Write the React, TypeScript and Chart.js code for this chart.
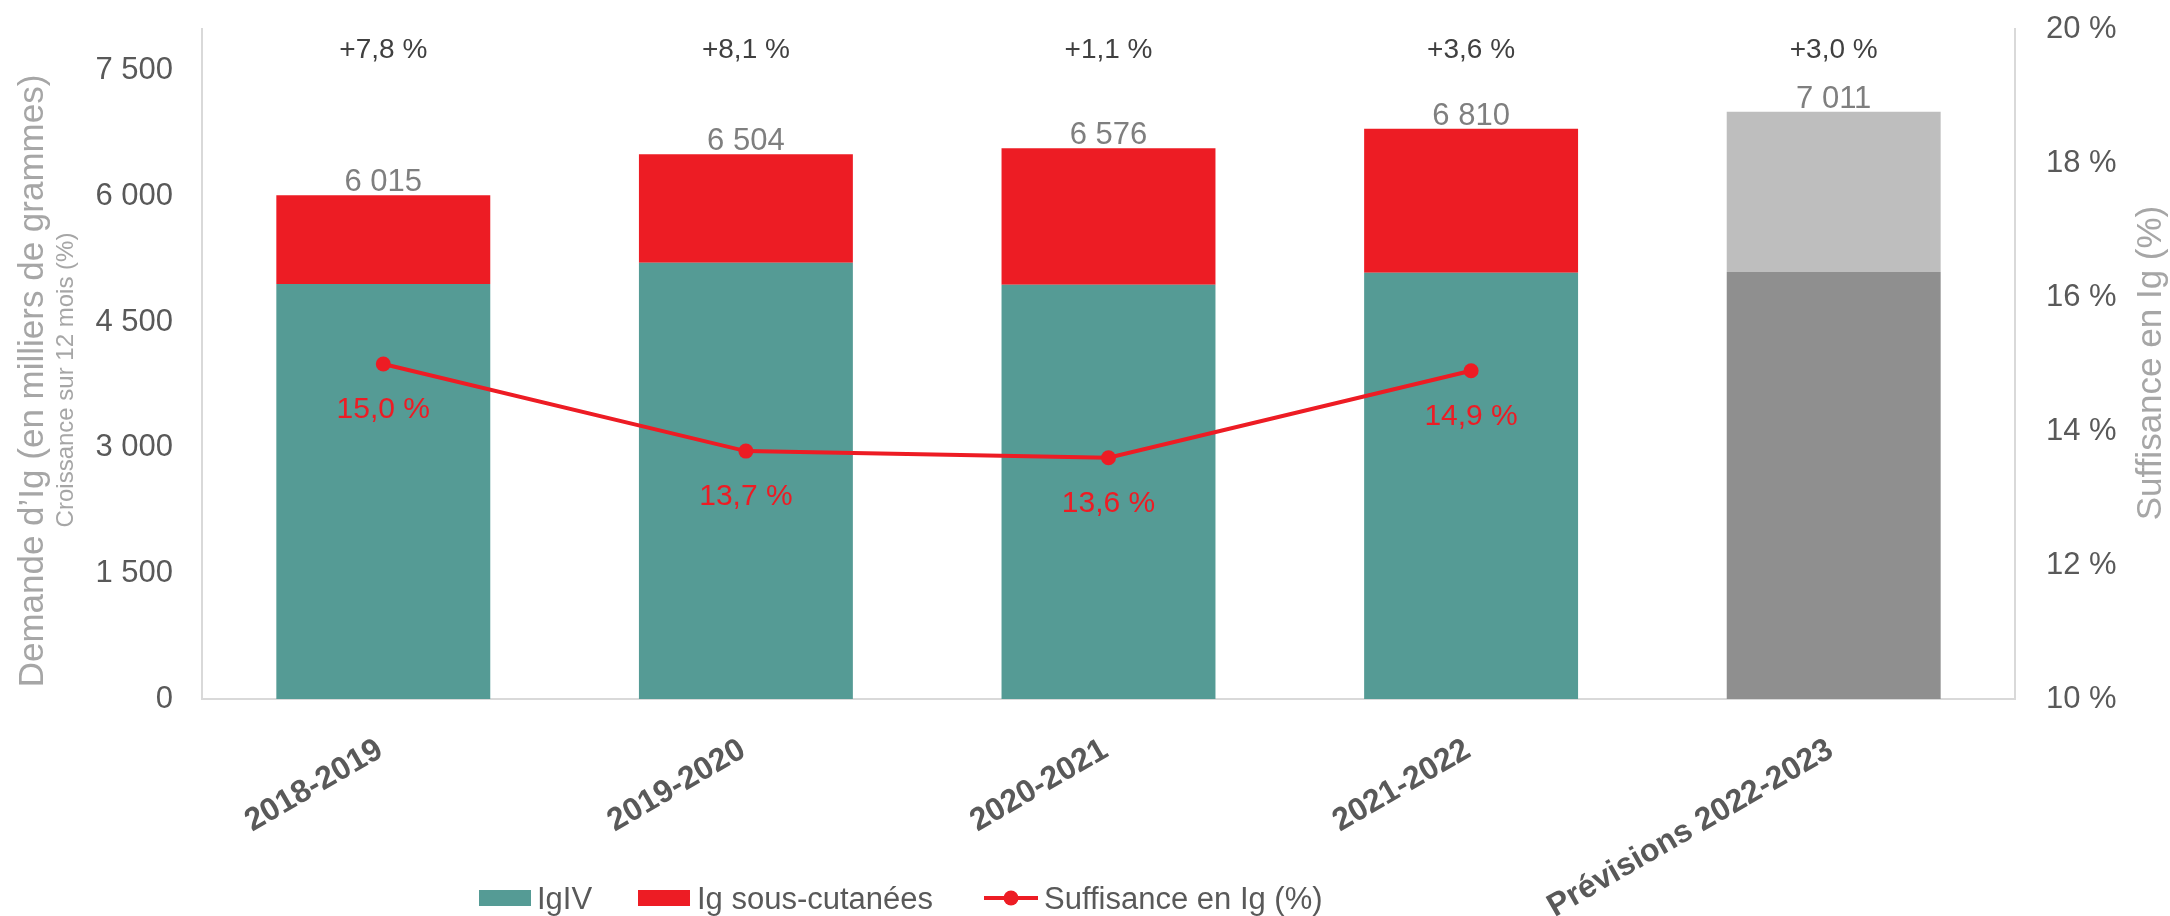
import React, { useEffect, useRef } from 'react';
import { Chart, registerables } from 'chart.js';

Chart.register(...registerables);

// ---------- DATA ----------
const categories = ['2018-2019', '2019-2020', '2020-2021', '2021-2022', 'Prévisions 2022-2023'];
const igIV = [4955, 5210, 4945, 5090, 5100];
const igSC = [1060, 1294, 1631, 1720, 1911];
const totals = [6015, 6504, 6576, 6810, 7011];
const growth = [7.8, 8.1, 1.1, 3.6, 3.0];
const suffisance: (number | null)[] = [15.0, 13.7, 13.6, 14.9, null];
const leftTicks = [0, 1500, 3000, 4500, 6000, 7500];
const rightTicks = [10, 12, 14, 16, 18, 20];
const seriesNames = ['IgIV', 'Ig sous-cutanées', 'Suffisance en Ig (%)'];
const leftTitle = 'Demande d’Ig (en milliers de grammes)';
const leftSubTitle = 'Croissance sur 12 mois (%)';
const rightTitle = 'Suffisance en Ig (%)';

// ---------- STYLE ----------
const FONT = '"Liberation Sans", Arial, Helvetica, sans-serif';
const TEAL = '#559B95';
const RED = '#ED1C24';
const DARK_GREY = '#8F8F8F';
const LIGHT_GREY = '#BEBEBE';
const TICK = '#595959';
const AXIS = '#D9D9D9';
const TITLE = '#A6A6A6';

const fmtInt = (v: number) => String(Math.round(v)).replace(/\B(?=(\d{3})+(?!\d))/g, ' ');
const fmtPct1 = (v: number) => v.toFixed(1).replace('.', ',') + ' %';
const fmtGrowth = (v: number) => '+' + v.toFixed(1).replace('.', ',') + ' %';

export default function App() {
  const ref = useRef<HTMLCanvasElement>(null);

  useEffect(() => {
    document.body.style.margin = '0';
    const canvas = ref.current;
    if (!canvas) return;

    const labelsPlugin = {
      id: 'labelsPlugin',
      afterDatasetsDraw(chart: any) {
        const c = chart.ctx;
        const area = chart.chartArea;
        const barMeta = chart.getDatasetMeta(1);
        const lineMeta = chart.getDatasetMeta(2);
        c.save();
        c.textAlign = 'center';
        c.textBaseline = 'alphabetic';
        barMeta.data.forEach((el: any, i: number) => {
          c.font = `31px ${FONT}`;
          c.fillStyle = '#7F7F7F';
          c.fillText(fmtInt(totals[i]), el.x, el.y - 4);
          c.font = `28px ${FONT}`;
          c.fillStyle = '#404040';
          c.fillText(fmtGrowth(growth[i]), el.x, area.top + 29);
        });
        lineMeta.data.forEach((el: any, i: number) => {
          const v = suffisance[i];
          if (v == null) return;
          c.font = `30px ${FONT}`;
          c.fillStyle = RED;
          c.fillText(fmtPct1(v), el.x, el.y + 54);
        });
        c.restore();
      },
      afterDraw(chart: any) {
        const c = chart.ctx;
        c.save();
        const drawRot = (text: string, x: number, y: number, size: number) => {
          c.save();
          c.translate(x, y);
          c.rotate(-Math.PI / 2);
          c.textAlign = 'center';
          c.textBaseline = 'alphabetic';
          c.font = `${size}px ${FONT}`;
          c.fillStyle = TITLE;
          c.fillText(text, 0, 0);
          c.restore();
        };
        drawRot(leftTitle, 43, 381, 35);
        drawRot(leftSubTitle, 73, 380, 24);
        drawRot(rightTitle, 2161, 363, 35);

        // legend
        const ly = 898;
        c.font = `31px ${FONT}`;
        c.textAlign = 'left';
        c.textBaseline = 'alphabetic';
        c.fillStyle = TEAL;
        c.fillRect(479, ly - 8, 52, 16);
        c.fillStyle = TICK;
        c.fillText(seriesNames[0], 537, ly + 11);
        c.fillStyle = RED;
        c.fillRect(638, ly - 8, 52, 16);
        c.fillStyle = TICK;
        c.fillText(seriesNames[1], 697, ly + 11);
        c.strokeStyle = RED;
        c.lineWidth = 4;
        c.beginPath();
        c.moveTo(984, ly);
        c.lineTo(1038, ly);
        c.stroke();
        c.fillStyle = RED;
        c.beginPath();
        c.arc(1011, ly, 7.5, 0, Math.PI * 2);
        c.fill();
        c.fillStyle = TICK;
        c.fillText(seriesNames[2], 1044, ly + 11);
        c.restore();
      },
    };

    const chart = new Chart(canvas, {
      type: 'bar',
      data: {
        labels: categories,
        datasets: [
          {
            type: 'bar',
            label: seriesNames[0],
            data: igIV,
            backgroundColor: [TEAL, TEAL, TEAL, TEAL, DARK_GREY],
            yAxisID: 'y',
            stack: 's',
            order: 1,
            categoryPercentage: 1,
            barPercentage: 0.59,
          },
          {
            type: 'bar',
            label: seriesNames[1],
            data: igSC,
            backgroundColor: [RED, RED, RED, RED, LIGHT_GREY],
            yAxisID: 'y',
            stack: 's',
            order: 1,
            categoryPercentage: 1,
            barPercentage: 0.59,
          },
          {
            type: 'line',
            label: seriesNames[2],
            data: suffisance,
            yAxisID: 'y1',
            borderColor: RED,
            backgroundColor: RED,
            borderWidth: 4,
            pointRadius: 7.5,
            pointBorderWidth: 0,
            pointBackgroundColor: RED,
            tension: 0,
            order: 0,
          } as any,
        ],
      },
      options: {
        animation: false,
        responsive: true,
        maintainAspectRatio: false,
        layout: { padding: { top: 29, left: 0, right: 0, bottom: 0 } },
        plugins: {
          legend: { display: false },
          tooltip: { enabled: false },
          title: { display: false },
        },
        scales: {
          x: {
            stacked: true,
            offset: true,
            grid: { display: false, drawTicks: false },
            border: { display: true, color: AXIS, width: 2 },
            ticks: {
              autoSkip: false,
              minRotation: 30,
              maxRotation: 30,
              padding: 32,
              labelOffset: -3,
              color: TICK,
              font: { family: FONT, size: 32, weight: 'bold' },
            },
            afterFit: (s: any) => {
              s.height = 217;
              s.paddingLeft = 0;
              s.paddingRight = 0;
            },
          },
          y: {
            position: 'left',
            stacked: true,
            min: 0,
            max: 8000,
            grid: { display: false, drawTicks: false },
            border: { display: true, color: AXIS, width: 2 },
            afterBuildTicks: (s: any) => {
              s.ticks = leftTicks.map((v) => ({ value: v }));
            },
            ticks: {
              padding: 29,
              color: TICK,
              font: { family: FONT, size: 31 },
              callback: (v: any) => fmtInt(Number(v)),
            },
            afterFit: (s: any) => {
              s.width = 202;
              s.paddingTop = 0;
              s.paddingBottom = 0;
            },
          },
          y1: {
            position: 'right',
            min: 10,
            max: 20,
            grid: { display: false, drawTicks: false },
            border: { display: true, color: AXIS, width: 2 },
            afterBuildTicks: (s: any) => {
              s.ticks = rightTicks.map((v) => ({ value: v }));
            },
            ticks: {
              padding: 31,
              color: TICK,
              font: { family: FONT, size: 31 },
              callback: (v: any) => `${v} %`,
            },
            afterFit: (s: any) => {
              s.width = 155;
              s.paddingTop = 0;
              s.paddingBottom = 0;
            },
          },
        },
      } as any,
      plugins: [labelsPlugin],
    });

    return () => chart.destroy();
  }, []);

  return (
    <div style={{ width: 2170, height: 916, position: 'relative', background: '#fff' }}>
      <canvas ref={ref} />
    </div>
  );
}
